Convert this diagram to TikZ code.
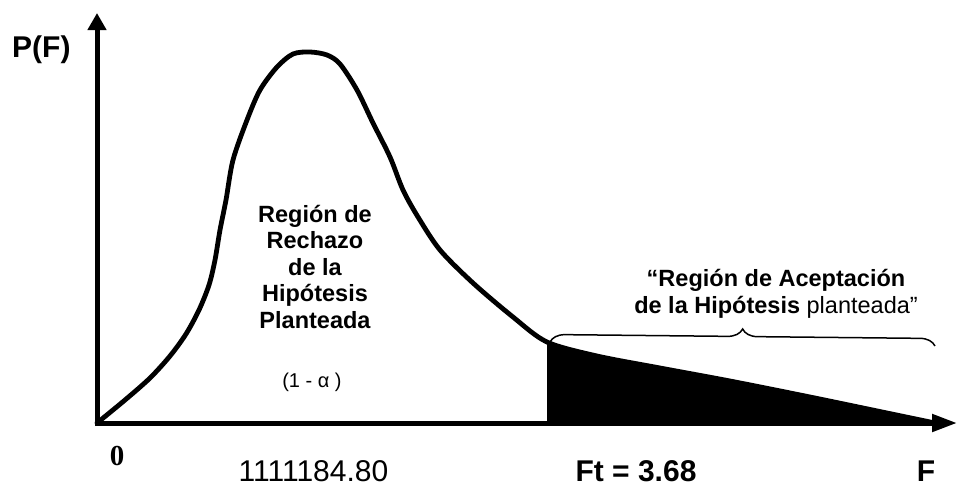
\documentclass[tikz,border=0pt]{standalone}
\usepackage{fontspec}
\setmainfont{Liberation Sans}
\newfontfamily\timesfont{Liberation Serif}
\usetikzlibrary{arrows.meta,decorations.pathreplacing}
\begin{document}
\begin{tikzpicture}[x=1pt,y=-1pt,
  axis/.style={line width=5pt},
  curvestyle/.style={line width=4.8pt, line join=round, line cap=round},
  bracestyle/.style={line width=1.5pt, decorate, decoration={brace, amplitude=15pt}},
  biglbl/.style={inner sep=0pt, font=\fontsize{30}{36}\selectfont\bfseries},
  numlbl/.style={inner sep=0pt, font=\fontsize{30}{36}\selectfont},
  region/.style={inner sep=0pt, align=center, font=\fontsize{23.5}{26.5}\selectfont\bfseries},
  alphalbl/.style={inner sep=0pt, font=\fontsize{20}{24}\selectfont}]
\useasboundingbox (0,0) rectangle (963,488);
\coordinate (O) at (97,423);
\coordinate (ytip) at (97,13);
\coordinate (xtip) at (957,423);
\coordinate (ystart) at (97,426);
\coordinate (xstart) at (94.5,423);
\coordinate (Ft) at (547,342);
\coordinate (Ftbase) at (547,423);
\coordinate (tailend) at (935,423);
\coordinate (braceL) at (550,342);
\coordinate (braceR) at (935,346);
% shaded tail
\fill (Ftbase) -- plot[smooth] coordinates {(547,342) (597,356) (660,368) (730,381) (810,397) (887,413) (935,423)} -- cycle;
% density curve
\draw[curvestyle] plot[smooth] coordinates {(97,423) (125,400) (150,378) (170,356) (186,334) (199,310) (209,285) (215,260) (220,230) (226,200) (233,160) (247,120) (260,90) (277,67) (293,54) (310,52) (327,55) (340,64) (357,90) (373,123) (390,157) (403,190) (418,217) (440,250) (473,283) (513,317) (547,342) (597,356) (660,368) (730,381) (810,397) (887,413) (935,423)};
% axes
\draw[axis, -{Triangle[length=17pt,width=18pt]}] (ystart) -- (ytip);
\draw[axis, -{Triangle[length=25pt,width=17pt]}] (xstart) -- (xtip);
% brace
\draw[bracestyle] (braceL) -- (braceR);
% labels
\node[biglbl, anchor=base west] (pf) at (12,57) {P(F)};
\node[inner sep=0pt, anchor=base, font=\timesfont\bfseries\fontsize{29}{34}\selectfont] (zero) at (117,465) {0};
\node[numlbl, anchor=base] (num) at (313.5,481) {1111184.80};
\node[biglbl, anchor=base] (ftl) at (636,481) {Ft = 3.68};
\node[biglbl, anchor=base] (fl) at (926,481) {F};
\node[region, anchor=base] (rech) at (315,328) {Región de\\Rechazo\\de la\\Hipótesis\\Planteada};
\node[alphalbl, anchor=base] (alpha) at (312,387) {(1 - α )};
\node[region, anchor=base] (acep) at (776,313) {“Región de Aceptación\\de la Hipótesis \textmd{planteada”}};
\end{tikzpicture}
\end{document}
